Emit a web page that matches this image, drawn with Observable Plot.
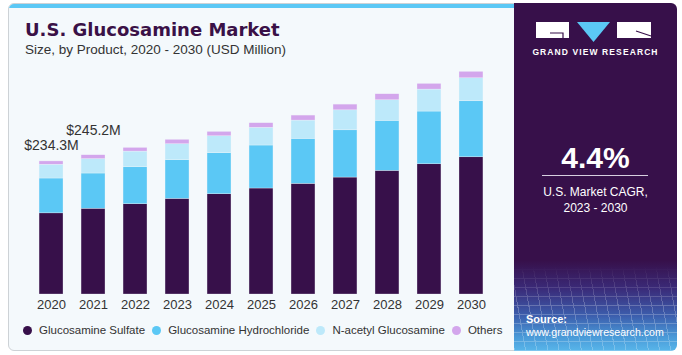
<!DOCTYPE html>
<html>
<head>
<meta charset="utf-8">
<script src="https://cdn.jsdelivr.net/npm/d3@7"></script>
<script src="https://cdn.jsdelivr.net/npm/@observablehq/plot@0.6"></script>
<style>
  html, body { margin: 0; padding: 0; background: #ffffff; }
  #root { position: relative; width: 682px; height: 355px; overflow: hidden; font-family: "Liberation Sans", Arial, sans-serif; }
  .card { position: absolute; left: 8px; top: 3px; width: 666px; height: 346px; border: 1px solid #cdd2d6; border-radius: 6px; background: #f4f9fc; overflow: hidden; }
  .stripe { position: absolute; left: 0; top: 0; width: 100%; height: 4px; background: #5bc8f5; }
  .panel { position: absolute; left: 514px; top: 3px; width: 163px; height: 348px; border-radius: 0 6px 6px 0; overflow: hidden;
    background: linear-gradient(to bottom, #37104a 0%, #37104a 74%, #3a2a78 82%, #3c5fae 90%, #4a9ad8 96%, #58b6ea 100%); }
  .grid { position: absolute; left: 0; right: 0; bottom: 0; height: 85px; opacity: 0.25;
    background-image: repeating-linear-gradient(0deg, rgba(255,255,255,0.9) 0 1px, transparent 1px 9px), repeating-linear-gradient(80deg, rgba(255,255,255,0.9) 0 1px, transparent 1px 11px);
    -webkit-mask-image: linear-gradient(to bottom, transparent, #000 45%); mask-image: linear-gradient(to bottom, transparent, #000 45%); }
  .title { position: absolute; left: 25px; top: 19px; font-family: "DejaVu Sans", sans-serif; font-weight: bold; font-size: 18px; color: #3a1147; white-space: nowrap; }
  .subtitle { position: absolute; left: 25px; top: 42px; font-size: 13.5px; color: #333; white-space: nowrap; }
  #chart { position: absolute; left: 0; top: 0; }
  .legend { position: absolute; left: 23px; top: 324px; display: flex; align-items: center; font-size: 11.5px; color: #333; white-space: nowrap; }
  .legend .item { display: flex; align-items: center; margin-right: 7px; }
  .legend .dot { width: 9px; height: 9px; border-radius: 50%; margin-right: 7px; }
  .logo { position: absolute; left: 536px; top: 22px; }
  .brand { position: absolute; left: 514px; width: 163px; top: 47px; text-align: center; font-size: 8.5px; font-weight: bold; letter-spacing: 1.1px; color: #fff; }
  .cagr { position: absolute; left: 514px; width: 163px; top: 141px; text-align: center; font-size: 30px; font-weight: bold; color: #fff; }
  .rule { position: absolute; left: 542px; width: 106px; top: 175px; height: 1px; background: #d8cfe0; }
  .cagrtxt { position: absolute; left: 514px; width: 163px; top: 184px; text-align: center; font-size: 12px; line-height: 16px; color: #fff; }
  .source { position: absolute; left: 526px; top: 313px; font-size: 10.6px; line-height: 13px; color: #fff; }
  .source b { font-size: 11px; }
</style>
</head>
<body>
<div id="root">
  <div class="card"><div class="stripe"></div></div>
  <div class="panel"><div class="grid"></div></div>
  <div class="title">U.S. Glucosamine Market</div>
  <div class="subtitle">Size, by Product, 2020 - 2030 (USD Million)</div>
  <div id="chart"></div>
  <div class="legend" id="legend"></div>
  <svg class="logo" width="116" height="22" viewBox="0 0 116 22">
    <rect x="0" y="0" width="33" height="16" fill="#fff"/>
    <polyline points="14,11 27,11 27,16" fill="none" stroke="#37104a" stroke-width="1.2"/>
    <polygon points="41,0 74,0 57.5,20" fill="#5bc8f5"/>
    <rect x="81" y="0" width="34" height="16" fill="#fff"/>
    <line x1="100" y1="9" x2="115" y2="14" stroke="#37104a" stroke-width="1.2"/>
  </svg>
  <div class="brand">GRAND VIEW RESEARCH</div>
  <div class="cagr">4.4%</div>
  <div class="rule"></div>
  <div class="cagrtxt">U.S. Market CAGR,<br>2023 - 2030</div>
  <div class="source"><b>Source:</b><br>www.grandviewresearch.com</div>
</div>
<script>
const years = [2020, 2021, 2022, 2023, 2024, 2025, 2026, 2027, 2028, 2029, 2030];
const seriesNames = ["Glucosamine Sulfate", "Glucosamine Hydrochloride", "N-acetyl Glucosamine", "Others"];
const seriesColors = ["#37104a", "#5bc8f5", "#bde9fa", "#d3a6ec"];
const sulfate = [142.9, 151.0, 159.0, 168.4, 176.5, 186.6, 194.8, 205.9, 217.7, 229.3, 241.6];
const hydrochloride = [61.3, 62.0, 65.0, 68.0, 72.2, 75.7, 79.2, 83.2, 88.0, 92.8, 98.6];
const nacetyl = [24.3, 25.4, 27.6, 28.2, 29.9, 31.2, 32.2, 35.2, 36.3, 38.7, 40.5];
const others = [5.8, 6.8, 6.5, 7.7, 7.7, 8.1, 8.8, 10.0, 10.6, 10.0, 11.3];
const labelYears = [2020, 2021];
const labelTexts = ["$234.3M", "$245.2M"];

const seriesValues = [sulfate, hydrochloride, nacetyl, others];
const table = years.flatMap((year, i) => seriesNames.map((s, j) => ({year, series: s, value: seriesValues[j][i]})));
const totals = years.map((year, i) => seriesValues.reduce((a, v) => a + v[i], 0));
const labels = labelYears.map((year, k) => ({year, total: totals[years.indexOf(year)], text: labelTexts[k]}));

const chart = Plot.plot({
  width: 514,
  height: 320,
  marginLeft: 21,
  marginRight: 13,
  marginTop: 60,
  marginBottom: 26,
  style: {background: "transparent", fontFamily: "'Liberation Sans', Arial, sans-serif", fontSize: "13px", color: "#333", overflow: "visible"},
  x: {type: "band", domain: years, padding: 0.43, round: false, label: null, tickSize: 0, tickPadding: 5, tickFormat: d => String(d)},
  y: {domain: [0, 412], axis: null},
  color: {domain: seriesNames, range: seriesColors},
  marks: [
    Plot.barY(table, {x: "year", y: "value", fill: "series", order: seriesNames, stroke: "#f4f9fc", strokeWidth: 0.5, strokeOpacity: 0.6}),
    Plot.text(labels.slice(0, 1), {x: "year", y: "total", text: "text", dy: -16, fontSize: 14, fill: "#333"}),
    Plot.text(labels.slice(1, 2), {x: "year", y: "total", text: "text", dy: -25, fontSize: 14, fill: "#333"})
  ]
});
document.getElementById("chart").appendChild(chart);

const legend = document.getElementById("legend");
seriesNames.forEach((name, i) => {
  const item = document.createElement("div");
  item.className = "item";
  const dot = document.createElement("span");
  dot.className = "dot";
  dot.style.background = seriesColors[i];
  const label = document.createElement("span");
  label.textContent = name;
  item.appendChild(dot);
  item.appendChild(label);
  legend.appendChild(item);
});
</script>
</body>
</html>
